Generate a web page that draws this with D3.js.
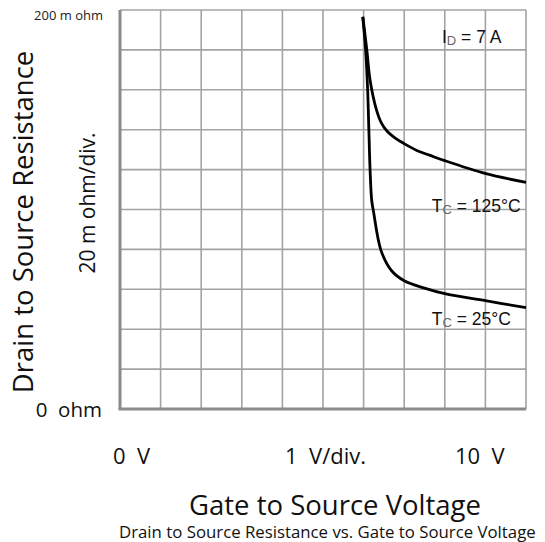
<!DOCTYPE html>
<html>
<head>
<meta charset="utf-8">
<script src="https://cdn.jsdelivr.net/npm/d3@7"></script>
<style>
  body { margin: 0; background: #fff; }
  svg { display: block; }
</style>
</head>
<body>
<div id="chart"></div>
<script>
// gate voltage (V) and on-resistance (m ohm)
var vgs25 = [5.98, 6.05, 6.10, 6.13, 6.16, 6.20, 6.24, 6.43, 6.69, 7.0, 7.5, 8.0, 9.0, 10];
var rds25 = [196.6, 179.9, 159.8, 139.7, 119.6, 104.5, 99.5, 79.4, 69.3, 64.3, 60.6, 57.8, 54.3, 50.8];

var vgs125 = [5.98, 6.08, 6.16, 6.32, 6.43, 6.58, 6.77, 7.0, 7.31, 7.64, 7.98, 8.99, 10];
var rds125 = [196.6, 179.9, 164.8, 149.7, 143.7, 139.2, 135.9, 133.0, 129.6, 127.1, 124.6, 118.1, 113.6];

var xTicks = [0, 1, 2, 3, 4, 5, 6, 7, 8, 9, 10];
var yTicks = [0, 20, 40, 60, 80, 100, 120, 140, 160, 180, 200];

var W = 545, H = 542;
var margin = {top: 10, right: 19, bottom: 133, left: 120};
var width = W - margin.left - margin.right,
    height = H - margin.top - margin.bottom;

var svg = d3.select("#chart")
  .append("svg")
    .attr("width", W)
    .attr("height", H);

var g = svg.append("g")
  .attr("transform", "translate(" + margin.left + "," + margin.top + ")");

var x = d3.scaleLinear().domain([0, 10]).range([0, width]);
var y = d3.scaleLinear().domain([0, 200]).range([height, 0]);

// grid
g.append("g")
  .selectAll("line")
  .data(xTicks)
  .enter().append("line")
    .attr("x1", function(d) { return x(d); })
    .attr("x2", function(d) { return x(d); })
    .attr("y1", 0)
    .attr("y2", height)
    .style("stroke", "#a3a3a3")
    .style("stroke-width", 1.6);

g.append("g")
  .selectAll("line")
  .data(yTicks)
  .enter().append("line")
    .attr("x1", 0)
    .attr("x2", width)
    .attr("y1", function(d) { return y(d); })
    .attr("y2", function(d) { return y(d); })
    .style("stroke", "#a3a3a3")
    .style("stroke-width", 1.6);

// heavier left and bottom axis lines
g.append("line")
  .attr("x1", 0).attr("x2", 0)
  .attr("y1", 0).attr("y2", height)
  .style("stroke", "#8a8a8a")
  .style("stroke-width", 3);
g.append("line")
  .attr("x1", -1.5).attr("x2", width)
  .attr("y1", height).attr("y2", height)
  .style("stroke", "#8a8a8a")
  .style("stroke-width", 3);

// curves
var line = d3.line()
  .x(function(d) { return x(d[0]); })
  .y(function(d) { return y(d[1]); })
  .curve(d3.curveCatmullRom.alpha(0.5));

[[vgs125, rds125], [vgs25, rds25]].forEach(function(s) {
  g.append("path")
    .datum(d3.zip(s[0], s[1]))
    .attr("d", line)
    .style("fill", "none")
    .style("stroke", "#000")
    .style("stroke-width", 2.8);
});

// annotations inside the plot
function label(px, py, main, sub, rest) {
  var t = g.append("text")
    .attr("x", px).attr("y", py)
    .style("font-family", "'Liberation Sans', Arial, sans-serif")
    .style("font-size", "17.5px")
    .style("fill", "#111")
    .style("white-space", "pre");
  t.append("tspan").text(main);
  t.append("tspan").text(sub)
    .attr("dy", 2)
    .style("font-size", "13px")
    .style("fill", "#666");
  t.append("tspan").text(rest)
    .attr("dy", -2);
}
label(x(7.93), y(183.6), "I", "D", " = 7 A");
label(x(7.68), y(98.7), "T", "C", " = 125°C");
label(x(7.68), y(42), "T", "C", " = 25°C");

// axis texts
var sans = "'Open Sans', 'Noto Sans', sans-serif";

svg.append("text")
  .attr("x", 103).attr("y", 20)
  .attr("text-anchor", "end")
  .style("font-family", sans)
  .style("font-size", "13px")
  .style("fill", "#222")
  .text("200 m ohm");

svg.append("text")
  .attr("x", 102).attr("y", 417)
  .attr("text-anchor", "end")
  .style("font-family", sans)
  .style("font-size", "20.5px")
  .style("fill", "#111")
  .style("white-space", "pre")
  .text("0  ohm");

svg.append("text")
  .attr("transform", "translate(33,222) rotate(-90)")
  .attr("text-anchor", "middle")
  .style("font-family", sans)
  .style("font-size", "27.5px")
  .style("fill", "#111")
  .text("Drain to Source Resistance");

svg.append("text")
  .attr("transform", "translate(95,203) rotate(-90)")
  .attr("text-anchor", "middle")
  .style("font-family", sans)
  .style("font-size", "21px")
  .style("fill", "#111")
  .text("20 m ohm/div.");

var xlabels = [["0  V", 113], ["1  V/div.", 285], ["10  V", 455]];
xlabels.forEach(function(d) {
  svg.append("text")
    .attr("x", d[1]).attr("y", 464)
    .style("font-family", sans)
    .style("font-size", "22px")
    .style("fill", "#111")
    .style("white-space", "pre")
    .text(d[0]);
});

svg.append("text")
  .attr("x", 335).attr("y", 515)
  .attr("text-anchor", "middle")
  .style("font-family", sans)
  .style("font-size", "27.5px")
  .style("fill", "#111")
  .text("Gate to Source Voltage");

svg.append("text")
  .attr("x", 119).attr("y", 538)
  .style("font-family", sans)
  .style("font-size", "16.8px")
  .style("fill", "#111")
  .text("Drain to Source Resistance vs. Gate to Source Voltage");
</script>
</body>
</html>
